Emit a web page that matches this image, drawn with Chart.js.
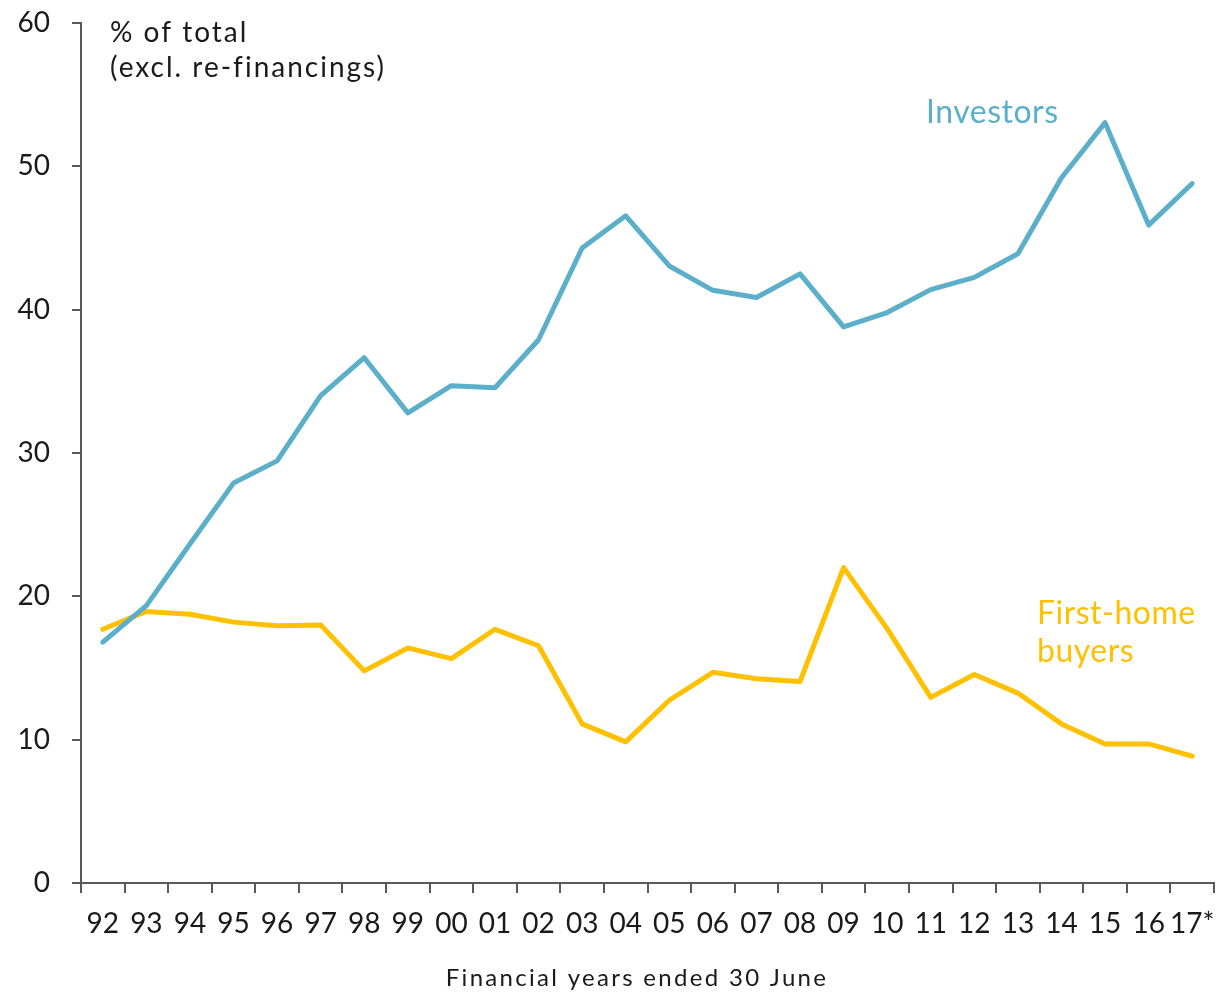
<!DOCTYPE html>
<html>
<head>
<meta charset="utf-8">
<script src="https://cdn.jsdelivr.net/npm/chart.js"></script>
<style>
  html, body { margin: 0; padding: 0; background: #fff; }
  #wrap { width: 1223px; height: 993px; }
</style>
</head>
<body>
<div id="wrap"><canvas id="chart"></canvas></div>
<script>
// Financial years ended 30 June
const years = ['92', '93', '94', '95', '96', '97', '98', '99', '00', '01', '02', '03', '04',
  '05', '06', '07', '08', '09', '10', '11', '12', '13', '14', '15', '16', '17*'];

// % of total housing loan commitments (excl. re-financings)
const investors = [16.8, 19.35, 23.65, 27.9, 29.45, 34.0, 36.65, 32.8, 34.7, 34.55, 37.9, 44.3, 46.55,
  43.05, 41.35, 40.85, 42.5, 38.8, 39.8, 41.4, 42.25, 43.9, 49.2, 53.05, 45.9, 48.8];
const firstHome = [17.7, 18.95, 18.75, 18.2, 17.95, 18.0, 14.8, 16.4, 15.65, 17.7, 16.55, 11.1, 9.85,
  12.75, 14.7, 14.25, 14.05, 22.0, 17.75, 12.95, 14.55, 13.25, 11.1, 9.7, 9.7, 8.85];

const yTicks = [0, 10, 20, 30, 40, 50, 60];

const BLUE = '#5bafcb';
const GOLD = '#ffc000';
const AXIS = '#595959';
const FONT = 'Lato';

Chart.defaults.font.family = FONT;
Chart.defaults.color = '#1a1a1a';

// Text labels drawn straight onto the canvas
const notes = {
  id: 'notes',
  afterDraw(chart) {
    const ctx = chart.ctx;
    ctx.save();
    ctx.textBaseline = 'middle';
    ctx.textAlign = 'left';

    ctx.fillStyle = '#1a1a1a';
    ctx.font = '28px ' + FONT;
    ctx.letterSpacing = '2px';
    ctx.fillText('% of total', 110, 33);
    ctx.fillText('(excl. re-financings)', 110, 68);

    ctx.fillStyle = BLUE;
    ctx.font = '32px ' + FONT;
    ctx.letterSpacing = '0.5px';
    ctx.fillText('Investors', 926, 113);

    ctx.fillStyle = GOLD;
    ctx.fillText('First-home', 1037, 614);
    ctx.fillText('buyers', 1037, 652);

    ctx.fillStyle = '#1a1a1a';
    ctx.font = '24px ' + FONT;
    ctx.letterSpacing = '2.3px';
    ctx.textAlign = 'center';
    ctx.fillText('Financial years ended 30 June', 637, 978);
    ctx.restore();
  }
};

new Chart(document.getElementById('chart'), {
  type: 'line',
  data: {
    labels: years,
    datasets: [
      {
        label: 'Investors',
        data: investors,
        borderColor: BLUE,
        borderWidth: 5,
        pointRadius: 0,
        tension: 0,
        borderCapStyle: 'round',
        borderJoinStyle: 'round'
      },
      {
        label: 'First-home buyers',
        data: firstHome,
        borderColor: GOLD,
        borderWidth: 5,
        pointRadius: 0,
        tension: 0,
        borderCapStyle: 'round',
        borderJoinStyle: 'round'
      }
    ]
  },
  options: {
    responsive: true,
    maintainAspectRatio: false,
    animation: false,
    layout: {
      padding: { top: 23, right: 9, left: 0, bottom: 0 }
    },
    plugins: {
      legend: { display: false },
      tooltip: { enabled: false }
    },
    scales: {
      x: {
        offset: true,
        afterFit(scale) {
          scale.height = 110;
          scale.paddingLeft = 0;
          scale.paddingRight = 0;
        },
        border: { color: AXIS, width: 2 },
        grid: {
          offset: true,
          drawOnChartArea: false,
          drawTicks: true,
          tickLength: 10,
          color: AXIS,
          lineWidth: 2
        },
        ticks: {
          autoSkip: false,
          maxRotation: 0,
          padding: 14,
          font: { size: 28 },
          color: '#1a1a1a'
        }
      },
      y: {
        min: 0,
        max: 60,
        afterFit(scale) {
          scale.width = 81;
          scale.paddingTop = 0;
          scale.paddingBottom = 0;
        },
        afterBuildTicks(scale) { scale.ticks = yTicks.map(v => ({ value: v })); },
        border: { color: AXIS, width: 2 },
        grid: {
          drawOnChartArea: false,
          drawTicks: true,
          tickLength: 9,
          color: AXIS,
          lineWidth: 2
        },
        ticks: {
          padding: 22,
          font: { size: 28 },
          color: '#1a1a1a'
        }
      }
    }
  },
  plugins: [notes]
});
</script>
</body>
</html>
